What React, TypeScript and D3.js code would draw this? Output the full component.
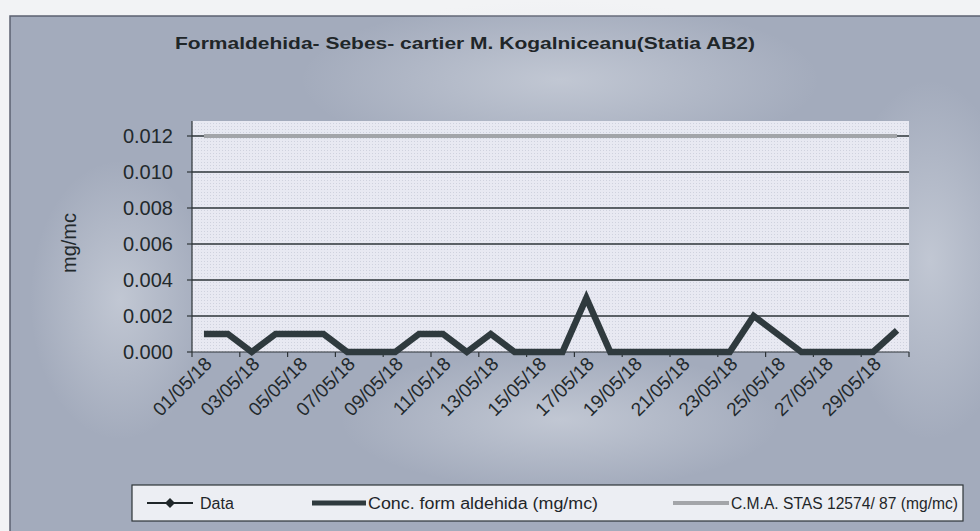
import * as d3 from "d3";

const dates = [
  "01/05/18", "02/05/18", "03/05/18", "04/05/18", "05/05/18", "06/05/18",
  "07/05/18", "08/05/18", "09/05/18", "10/05/18", "11/05/18", "12/05/18",
  "13/05/18", "14/05/18", "15/05/18", "16/05/18", "17/05/18", "18/05/18",
  "19/05/18", "20/05/18", "21/05/18", "22/05/18", "23/05/18", "24/05/18",
  "25/05/18", "26/05/18", "27/05/18", "28/05/18", "29/05/18", "30/05/18",
];
const conc = [
  0.001, 0.001, 0, 0.001, 0.001, 0.001, 0, 0, 0, 0.001, 0.001, 0, 0.001, 0, 0,
  0, 0.003, 0, 0, 0, 0, 0, 0, 0.002, 0.001, 0, 0, 0, 0, 0.0012,
];
const cma = dates.map(() => 0.012);
const yTicks = [0, 0.002, 0.004, 0.006, 0.008, 0.01, 0.012];

const title = "Formaldehida- Sebes- cartier M. Kogalniceanu(Statia AB2)";
const legendItems = ["Data", "Conc. form aldehida (mg/mc)", "C.M.A. STAS 12574/ 87 (mg/mc)"];

export default function App() {
  const W = 980, H = 531;
  const left = 192, right = 909, top = 121, bottom = 352;
  const font = "'Liberation Sans', Arial, sans-serif";

  const x = d3.scaleBand<string>().domain(dates).range([left, right]);
  const cx = (d: string) => (x(d) ?? 0) + x.bandwidth() / 2;
  const y = d3.scaleLinear().domain([0, 0.012]).range([bottom, 136]);
  const fmt = d3.format(".3f");

  const line = d3.line<number>().x((_, i) => cx(dates[i])).y((v) => y(v));

  const tickXs = dates.filter((_, i) => i % 2 === 0).map((d) => x(d) ?? 0).concat([right]);

  return (
    <svg width={W} height={H} style={{ position: "absolute", left: 0, top: 0 }}>
      <defs>
        <radialGradient id="glow" cx="50%" cy="50%" r="50%">
          <stop offset="0%" stopColor="#dfe3ea" stopOpacity={0.5} />
          <stop offset="100%" stopColor="#dfe3ea" stopOpacity={0} />
        </radialGradient>
        <pattern id="dots" width={3} height={3} patternUnits="userSpaceOnUse">
          <rect width={3} height={3} fill="#e8e9f2" />
          <rect width={1} height={1} fill="#cfd2de" />
        </pattern>
      </defs>
      <rect width={W} height={H} fill="#f2f3f5" />
      {/* chart area */}
      <rect x={10} y={16} width={W} height={H} fill="#a3abbc" stroke="#5c6270" strokeWidth={1.5} />
      <ellipse cx={560} cy={80} rx={260} ry={80} fill="url(#glow)" />
      <ellipse cx={930} cy={260} rx={90} ry={180} fill="url(#glow)" />
      <ellipse cx={560} cy={420} rx={220} ry={70} fill="url(#glow)" />
      <ellipse cx={120} cy={300} rx={90} ry={140} fill="url(#glow)" />

      <text x={465} y={49} textAnchor="middle" fontFamily={font} fontWeight="bold" fontSize={17}
        fill="#1f2629" textLength={580} lengthAdjust="spacingAndGlyphs">{title}</text>

      {/* plot area */}
      <rect x={left} y={top} width={right - left} height={bottom - top} fill="url(#dots)" />
      {yTicks.slice(1).map((t) => (
        <line key={t} x1={left} x2={right} y1={y(t)} y2={y(t)} stroke="#2e3438" strokeWidth={1.5} />
      ))}
      <line x1={left} x2={left} y1={top} y2={bottom} stroke="#2e3438" strokeWidth={1.2} />
      <line x1={left} x2={right} y1={bottom} y2={bottom} stroke="#2e3438" strokeWidth={1.2} />
      {yTicks.map((t) => (
        <g key={t}>
          <line x1={left - 5} x2={left} y1={y(t)} y2={y(t)} stroke="#2e3438" strokeWidth={1.2} />
          <text x={173} y={y(t) + 7} textAnchor="end" fontFamily={font} fontSize={20} fill="#22292c">{fmt(t)}</text>
        </g>
      ))}
      {tickXs.map((tx, i) => (
        <line key={i} x1={tx} x2={tx} y1={bottom} y2={bottom + 5} stroke="#2e3438" strokeWidth={1.2} />
      ))}
      {dates.filter((_, i) => i % 2 === 0).map((d) => (
        <text key={d} transform={`translate(${cx(d) + 9},${bottom + 13}) rotate(-45)`} textAnchor="end"
          fontFamily={font} fontSize={19} fill="#22292c">{d}</text>
      ))}
      <text transform={`translate(76,243) rotate(-90)`} textAnchor="middle" fontFamily={font} fontSize={20} fill="#22292c">mg/mc</text>

      {/* series */}
      <path d={line(cma) ?? ""} fill="none" stroke="#a3a5a9" strokeWidth={4} />
      <path d={line(conc) ?? ""} fill="none" stroke="#2f3a3e" strokeWidth={6.5} strokeLinejoin="miter" />

      {/* legend */}
      <rect x={132} y={485} width={831} height={36} fill="#eceef3" stroke="#2e3438" strokeWidth={1.2} />
      <line x1={147} x2={193} y1={503} y2={503} stroke="#1f2629" strokeWidth={2} />
      <path d="M170,498 L175,503 L170,508 L165,503 Z" fill="#1f2629" />
      <text x={200} y={509} fontFamily={font} fontSize={16} fill="#1f2629">{legendItems[0]}</text>
      <line x1={312} x2={366} y1={503} y2={503} stroke="#2f3a3e" strokeWidth={5} />
      <text x={368} y={509} fontFamily={font} fontSize={16} fill="#1f2629" textLength={230} lengthAdjust="spacingAndGlyphs">{legendItems[1]}</text>
      <line x1={673} x2={729} y1={503} y2={503} stroke="#a3a5a9" strokeWidth={4} />
      <text x={731} y={509} fontFamily={font} fontSize={16} fill="#1f2629" textLength={227} lengthAdjust="spacingAndGlyphs">{legendItems[2]}</text>
    </svg>
  );
}
